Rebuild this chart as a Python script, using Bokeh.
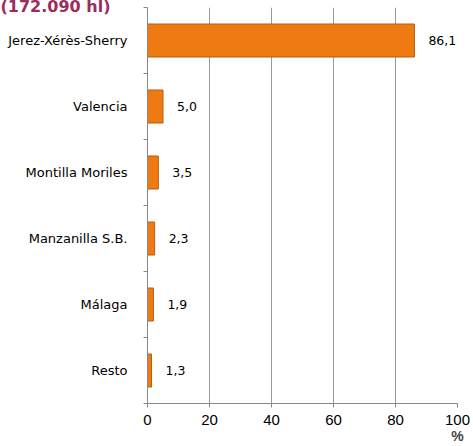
from bokeh.plotting import figure
from bokeh.models import ColumnDataSource, FixedTicker, Title
from bokeh.core.properties import value
from bokeh.embed import file_html
from bokeh.resources import INLINE

categories = ["Jerez-Xérès-Sherry", "Valencia", "Montilla Moriles",
              "Manzanilla S.B.", "Málaga", "Resto"]
values = [86.1, 5.0, 3.5, 2.3, 1.9, 1.3]
value_labels = ["86,1", "5,0", "3,5", "2,3", "1,9", "1,3"]
x_ticks = [0, 20, 40, 60, 80, 100]
title_text = "(172.090 hl)"
x_label = "%"

n = len(categories)
ypos = [n - i - 0.5 for i in range(n)]
src = ColumnDataSource(dict(y=ypos, v=values, lab=value_labels, cat=categories))

p = figure(width=473, height=446, output_backend="svg", toolbar_location=None,
           x_range=(0, 100), y_range=(0, n), min_border_top=7, min_border_left=147,
           min_border_right=16, min_border_bottom=43)
p.outline_line_color = None
p.background_fill_color = "white"

p.hbar(y="y", right="v", left=0, height=0.5, source=src,
       fill_color="#F07A12", line_color="#B85C10", line_width=1)

p.text(x="v", y="y", text="lab", source=src, x_offset=14,
       text_baseline="middle", text_align="left",
       text_font=value("DejaVu Sans"), text_font_size="12.5px", text_color="#000000")

# x axis
p.xaxis.ticker = FixedTicker(ticks=x_ticks)
p.xaxis.axis_line_color = "#888888"
p.xaxis.major_tick_line_color = "#888888"
p.xaxis.major_tick_out = 4
p.xaxis.major_tick_in = 0
p.xaxis.minor_tick_line_color = None
p.xaxis.major_label_text_font = "Liberation Sans"
p.xaxis.major_label_text_font_size = "15px"
p.xaxis.major_label_text_color = "#000000"
p.xaxis.major_label_standoff = 7
p.xaxis.axis_label = x_label
p.xaxis.axis_label_text_font = "Liberation Sans"
p.xaxis.axis_label_text_font_size = "14px"
p.xaxis.axis_label_text_font_style = "bold"
p.xaxis.axis_label_align = "end"
p.xaxis.axis_label_standoff = 0

# y axis
p.yaxis.ticker = FixedTicker(ticks=ypos, minor_ticks=list(range(0, n + 1)))
p.yaxis.major_label_overrides = {yv: c for yv, c in zip(ypos, categories)}
p.yaxis.axis_line_color = "#888888"
p.yaxis.major_tick_line_color = None
p.yaxis.major_tick_out = 0
p.yaxis.major_tick_in = 0
p.yaxis.minor_tick_line_color = "#888888"
p.yaxis.minor_tick_out = 4
p.yaxis.minor_tick_in = 0
p.yaxis.major_label_text_font = "DejaVu Sans"
p.yaxis.major_label_text_font_size = "13px"
p.yaxis.major_label_text_color = "#000000"
p.yaxis.major_label_standoff = 16

p.xgrid.grid_line_color = "#999999"
p.xgrid.ticker = FixedTicker(ticks=x_ticks)
p.ygrid.grid_line_color = None

p.add_layout(Title(text=title_text, align="left", offset=-147, standoff=-21,
                   vertical_align="top", text_baseline="alphabetic",
                   text_font="DejaVu Sans", text_font_size="16px",
                   text_font_style="bold", text_color="#9B2D5E"), "above")

open("out.html", "w").write(file_html(p, INLINE))
